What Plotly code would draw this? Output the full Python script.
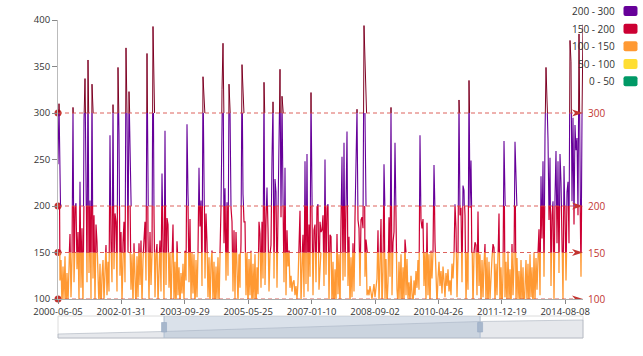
import plotly.graph_objects as go

# ---------------- data (one value per pixel column) ----------------
aqi_values = [
    245, 310, 120, 142, 92, 135, 100, 146, 85, 128,
    96, 140, 170, 102, 145, 306, 118, 198, 203, 132,
    172, 98, 226, 112, 176, 90, 293, 337, 257, 118,
    357, 128, 206, 100, 331, 122, 190, 95, 180, 161,
    118, 92, 138, 86, 125, 142, 98, 135, 158, 104,
    140, 108, 276, 161, 118, 309, 132, 192, 183, 108,
    349, 278, 125, 172, 98, 161, 183, 118, 370, 300,
    150, 323, 161, 110, 148, 92, 160, 118, 88, 146,
    102, 160, 115, 163, 95, 142, 164, 183, 120, 364,
    169, 98, 172, 115, 148, 393, 192, 102, 148, 159,
    95, 140, 163, 108, 235, 156, 100, 281, 115, 187,
    180, 112, 150, 90, 142, 180, 96, 140, 86, 162,
    104, 134, 92, 128, 106, 138, 98, 152, 120, 288,
    213, 118, 186, 98, 150, 106, 148, 88, 142, 102,
    150, 241, 178, 206, 114, 339, 259, 122, 192, 161,
    102, 145, 90, 138, 152, 96, 140, 85, 135, 100,
    145, 92, 150, 198, 325, 375, 160, 219, 120, 204,
    125, 331, 305, 198, 183, 108, 174, 100, 172, 118,
    95, 148, 112, 161, 352, 213, 183, 183, 104, 150,
    90, 143, 104, 152, 86, 138, 98, 148, 84, 134,
    105, 183, 170, 112, 183, 122, 333, 115, 185, 220,
    176, 108, 148, 158, 252, 312, 122, 229, 215, 112,
    190, 257, 347, 188, 318, 209, 118, 241, 104, 174,
    135, 152, 112, 125, 108, 118, 120, 104, 114, 100,
    118, 150, 195, 96, 142, 169, 102, 248, 116, 256,
    108, 180, 124, 322, 193, 104, 174, 180, 118, 199,
    202, 110, 183, 172, 174, 190, 114, 250, 126, 198,
    202, 96, 169, 167, 92, 140, 84, 132, 96, 170,
    105, 148, 88, 183, 253, 120, 268, 124, 198, 280,
    114, 167, 90, 145, 102, 160, 108, 188, 238, 304,
    185, 176, 114, 185, 188, 176, 394, 124, 164, 104,
    110, 104, 114, 106, 100, 108, 116, 102, 110, 122,
    174, 96, 138, 186, 88, 130, 245, 100, 143, 92,
    118, 188, 124, 306, 104, 161, 172, 268, 183, 110,
    94, 140, 100, 148, 86, 134, 97, 164, 104, 143,
    100, 118, 96, 125, 106, 92, 120, 104, 130, 112,
    142, 110, 276, 185, 176, 186, 114, 150, 98, 182,
    104, 148, 90, 152, 122, 150, 244, 161, 114, 94,
    122, 140, 114, 130, 106, 135, 120, 102, 128, 114,
    132, 108, 120, 104, 138, 122, 146, 202, 176, 102,
    148, 314, 190, 198, 118, 222, 217, 190, 95, 150,
    110, 335, 198, 249, 124, 90, 150, 161, 158, 104,
    194, 114, 148, 92, 142, 102, 138, 159, 96, 145,
    88, 140, 100, 130, 144, 159, 155, 95, 138, 104,
    142, 192, 94, 134, 86, 128, 270, 102, 140, 92,
    151, 98, 132, 85, 159, 104, 138, 269, 95, 144,
    100, 130, 86, 142, 94, 134, 82, 128, 142, 97,
    138, 88, 148, 102, 134, 85, 150, 97, 144, 110,
    150, 175, 104, 232, 165, 248, 124, 276, 349, 314,
    272, 185, 252, 114, 190, 205, 100, 210, 259, 160,
    248, 128, 256, 226, 170, 98, 243, 195, 120, 215,
    226, 160, 378, 355, 205, 295, 180, 287, 260, 273,
    190, 385, 219, 124, 295, 395,
]

tick_labels = ["2000-06-05", "2002-01-31", "2003-09-29", "2005-05-25", "2007-01-10",
               "2008-09-02", "2010-04-26", "2011-12-19", "2014-08-08"]
LABEL_STEP = 63.4          # category interval between labels (in resampled points)

band_lows = [100, 150, 200, 300]
band_highs = [150, 200, 300, 400]
band_colors = ["#ff9933", "#cc0033", "#660099", "#7e0023"]
band_widths = [1.3, 1.2, 1.1, 1.0]

mark_values = [100, 150, 200, 300]

piece_labels = ["200 - 300", "150 - 200", "100 - 150", "50 - 100", "0 - 50"]
piece_colors = ["#660099", "#cc0033", "#ff9933", "#ffde33", "#009966"]

zoom_start, zoom_end = 0.202, 0.804

Y_MIN, Y_MAX = 100, 400

# ---------------- layout geometry ----------------
W, H = 643, 356
ML, MR, MT, MB = 58, 60, 20, 57
PW, PH = W - ML - MR, H - MT - MB


def px2x(px):
    return (px - ML) / PW


def py2y(py):
    return (H - MB - py) / PH


FONT = "Open Sans"
FS = 9.5
MARK_RED = "#c23531"

x_idx = list(range(len(aqi_values)))
x_max = len(aqi_values) - 1

fig = go.Figure()
layout_axes = {}

# line coloured by value pieces: each band is its own clipped subplot
for k, (lo, hi, col, lw) in enumerate(zip(band_lows, band_highs, band_colors, band_widths)):
    yname = "y%d" % (k + 2)
    fig.add_trace(go.Scatter(
        x=x_idx, y=aqi_values, mode="lines",
        line=dict(color=col, width=lw),
        xaxis="x", yaxis=yname, hoverinfo="skip", showlegend=False,
    ))
    layout_axes["yaxis%d" % (k + 2)] = dict(
        domain=[(lo - Y_MIN) / (Y_MAX - Y_MIN), (hi - Y_MIN) / (Y_MAX - Y_MIN)],
        range=[lo, hi], anchor="x", visible=False, fixedrange=True,
    )

# markLine start circles
fig.add_trace(go.Scatter(
    x=[0] * len(mark_values), y=mark_values, mode="markers",
    marker=dict(color=MARK_RED, size=7), cliponaxis=False,
    xaxis="x", yaxis="y", hoverinfo="skip", showlegend=False,
))

shapes = []
annotations = []

# markLines: dashed lines, arrow heads, labels
for v in mark_values:
    shapes.append(dict(type="line", xref="x", yref="y", x0=0, x1=x_max, y0=v, y1=v,
                       line=dict(color="rgba(215,70,65,0.85)", width=1, dash="4px,3px"),
                       layer="above"))
    shapes.append(dict(type="path", xref="x", yref="y", xsizemode="pixel", ysizemode="pixel",
                       xanchor=x_max, yanchor=v,
                       path="M -11,-3.5 L 0,0 L -11,3.5 L -8,0 Z",
                       fillcolor=MARK_RED, line=dict(width=0), layer="above"))
    annotations.append(dict(x=1, xref="paper", y=v, yref="y", text=str(v), showarrow=False,
                            xanchor="left", yanchor="middle", xshift=3,
                            font=dict(family=FONT, size=FS + 0.5, color=MARK_RED)))

# visualMap pieces (top right)
row_y = [11, 28.7, 46.3, 64, 81.3]
for lab, col, ry in zip(piece_labels, piece_colors, row_y):
    annotations.append(dict(x=px2x(617), xref="paper", y=py2y(ry), yref="paper", text=lab,
                            showarrow=False, xanchor="right", yanchor="middle",
                            font=dict(family=FONT, size=FS + 0.5, color="#333")))
    shapes.append(dict(type="path", xref="paper", yref="paper", xsizemode="pixel",
                       ysizemode="pixel", xanchor=px2x(630.5), yanchor=py2y(ry),
                       path="M -7,-3 Q -7,-5 -5,-5 L 5,-5 Q 7,-5 7,-3 L 7,3 Q 7,5 5,5 "
                            "L -5,5 Q -7,5 -7,3 Z",
                       fillcolor=col, line=dict(width=0)))

# dataZoom slider
s_top, s_bot = py2y(316), py2y(338)
shapes.append(dict(type="rect", xref="paper", yref="paper", x0=0, x1=1, y0=s_bot, y1=s_top,
                   fillcolor="white", line=dict(color="#dcdcdc", width=1)))
shadow = "M 0,%f L 0,%f L %f,%f L %f,%f L 1,%f L 1,%f Z" % (
    s_bot, py2y(334), px2x(164), py2y(331.5), px2x(480), py2y(321.5), py2y(320), s_bot)
shapes.append(dict(type="path", xref="paper", yref="paper", path=shadow,
                   fillcolor="rgba(200,205,212,0.45)", line=dict(color="rgba(170,178,190,0.6)", width=1)))
shapes.append(dict(type="rect", xref="paper", yref="paper", x0=zoom_start, x1=zoom_end,
                   y0=s_bot, y1=s_top, fillcolor="rgba(167,183,204,0.42)", line=dict(width=0)))
for edge in (zoom_start, zoom_end):
    shapes.append(dict(type="line", xref="paper", yref="paper", x0=edge, x1=edge,
                       y0=s_bot, y1=s_top, line=dict(color="#aebdd0", width=1)))
    shapes.append(dict(type="rect", xref="paper", yref="paper",
                       x0=edge - 2.5 / PW, x1=edge + 2.5 / PW,
                       y0=py2y(332), y1=py2y(322.5),
                       fillcolor="#a7b7cc", line=dict(color="#97a9c2", width=0.6)))

fig.update_layout(
    width=W, height=H,
    margin=dict(l=ML, r=MR, t=MT, b=MB, pad=0),
    paper_bgcolor="white", plot_bgcolor="rgba(0,0,0,0)",
    font=dict(family=FONT, size=FS, color="#333"),
    showlegend=False, hovermode=False,
    xaxis=dict(
        range=[0, x_max], anchor="y",
        tickmode="array", tickvals=[i * LABEL_STEP for i in range(len(tick_labels))],
        ticktext=tick_labels, ticks="outside", ticklen=4, tickcolor="#888",
        showline=True, linecolor="#aaa", linewidth=1, showgrid=False, zeroline=False,
        tickfont=dict(family=FONT, size=FS, color="#333"), fixedrange=True,
    ),
    yaxis=dict(
        range=[Y_MIN, Y_MAX], domain=[0, 1], anchor="x",
        tickmode="array", tickvals=[100, 150, 200, 250, 300, 350, 400],
        ticks="outside", ticklen=5, tickcolor="#888",
        showline=True, linecolor="#bbb", linewidth=1, showgrid=False, zeroline=False,
        tickfont=dict(family=FONT, size=FS, color="#333"), fixedrange=True,
    ),
    shapes=shapes, annotations=annotations,
    **layout_axes,
)

fig.write_html("out.html", config={"displayModeBar": False},
               post_script="document.body.style.margin='0';document.body.style.overflow='hidden';")
